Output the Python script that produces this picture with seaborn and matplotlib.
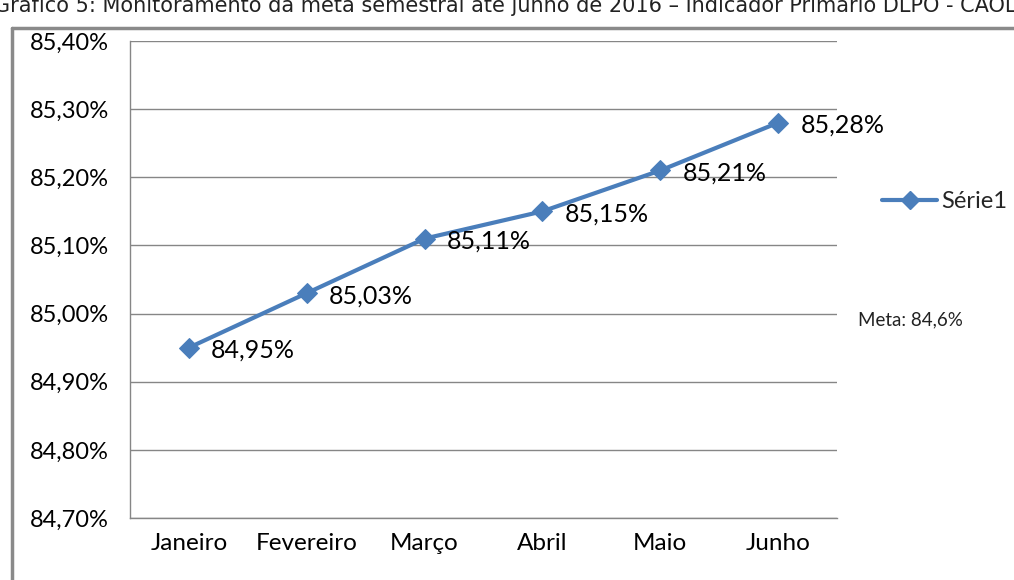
import matplotlib
matplotlib.use("Agg")
import matplotlib.pyplot as plt
import seaborn as sns
import pandas as pd
from matplotlib.lines import Line2D
from matplotlib.ticker import FuncFormatter

months = ["Janeiro", "Fevereiro", "Março", "Abril", "Maio", "Junho"]
values = [84.95, 85.03, 85.11, 85.15, 85.21, 85.28]
series_name = "Série1"
title = "Gráfico 5: Monitoramento da meta semestral até junho de 2016 – Indicador Primário DLPO - CAOLC"
meta_text = "Meta: 84,6%"
y_ticks = [84.70, 84.80, 84.90, 85.00, 85.10, 85.20, 85.30, 85.40]

sns.set_theme(style="white")
plt.rcParams['font.family'] = ['Lato', 'DejaVu Sans']

df = pd.DataFrame({"mes": months, "valor": values, "serie": series_name})
df["pos"] = range(len(months))

fig = plt.figure(figsize=(10.14, 5.8), dpi=100)
ax = fig.add_axes([130/1014, 1-518/580, (837-130)/1014, (518-41)/580])

color = "#4a7ebb"
sns.lineplot(data=df, x="pos", y="valor", hue="serie", palette=[color], marker="D",
             markersize=10, linewidth=3, markeredgecolor=color, ax=ax, legend=False)

ax.set_xlim(-0.5, len(months) - 0.5)
ax.set_ylim(y_ticks[0], y_ticks[-1])
ax.set_yticks(y_ticks)
ax.yaxis.set_major_formatter(FuncFormatter(lambda v, p: f"{v:.2f}%".replace(".", ",")))
ax.set_xticks(range(len(months)))
ax.set_xticklabels(months)
ax.set_xlabel("")
ax.set_ylabel("")
ax.grid(axis="y", color="#868686", linewidth=1)
ax.set_axisbelow(True)
for s in ["top", "right"]:
    ax.spines[s].set_visible(False)
for s in ["left", "bottom"]:
    ax.spines[s].set_color("#868686")
    ax.spines[s].set_linewidth(1)
ax.tick_params(axis="y", labelsize=17, pad=15, length=0)
ax.tick_params(axis="x", labelsize=17.5, pad=11, length=0)
for lbl in ax.get_yticklabels() + ax.get_xticklabels():
    lbl.set_color("black")

for i, v in enumerate(values):
    ax.annotate(f"{v:.2f}%".replace(".", ","), (i, v), xytext=(16, -2), textcoords="offset points",
                ha="left", va="center", fontsize=18, color="black")

# legend
handle = Line2D([0], [0], color=color, linewidth=3, marker="D", markersize=9)
fig.legend([handle], [series_name], loc="center left", bbox_to_anchor=(873/1014, 1-202/580),
           frameon=False, fontsize=17, handlelength=2.3, handletextpad=0.2, borderaxespad=0)

fig.text(858/1014, 1-320/580, meta_text, ha="left", va="center", fontsize=13.5, color="#222222")

# truncated caption at top (cut off like in the source image)
fig.text(-0.006, 1-12/580, title, ha="left", va="baseline", fontsize=15,
         color="#222222", family="DejaVu Sans")

# outer chart border
fig.add_artist(Line2D([12/1014, 12/1014], [0, 1-28/580], color="#8a8a8a", linewidth=2.5,
                      transform=fig.transFigure))
fig.add_artist(Line2D([12/1014, 1.0], [1-28/580, 1-28/580], color="#8a8a8a", linewidth=2.5,
                      transform=fig.transFigure))

fig.savefig("out.png", dpi=100)
